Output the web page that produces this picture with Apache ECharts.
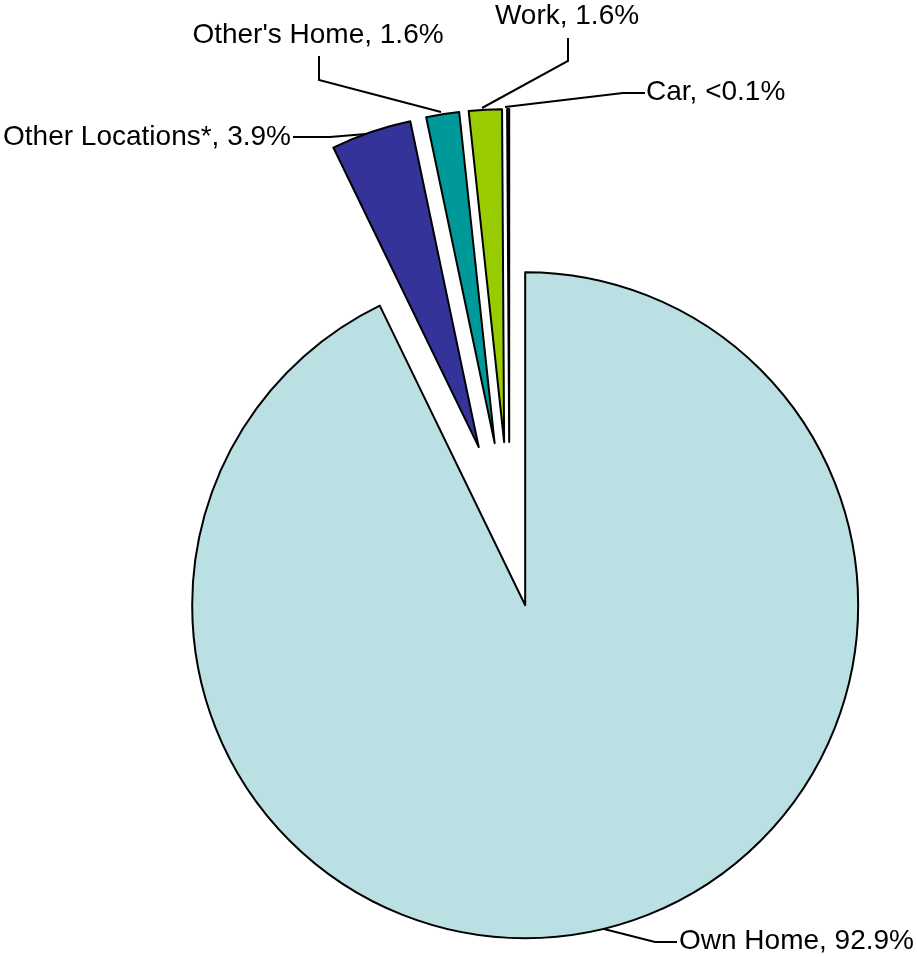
<!DOCTYPE html>
<html>
<head>
<meta charset="utf-8">
<script src="https://cdn.jsdelivr.net/npm/echarts@6/dist/echarts.min.js"></script>
<style>
html,body{margin:0;padding:0;background:#fff;}
#chart{width:917px;height:957px;}
</style>
</head>
<body>
<div id="chart"></div>
<script>
// ---- data ----
var categories = ["Own Home", "Other Locations*", "Other's Home", "Work", "Car"];
var values = [92.9, 3.9, 1.6, 1.6, 0.1];
var valueLabels = ["92.9%", "3.9%", "1.6%", "1.6%", "<0.1%"];
var colors = ["#BAE0E3", "#333399", "#009999", "#99CC00", "#FFFFCC"];
var explodedGroup = [false, true, true, true, true];

// ---- label placement (annotation positions) ----
var labelPos = [
  {x: 679, y: 941, align: 'left',   line: [[600, 928], [655, 942], [677, 942]]},
  {x: 291, y: 137, align: 'right',  line: [[366, 134], [330, 137], [293, 137]]},
  {x: 318, y: 35,  align: 'center', line: [[441, 112], [319, 80], [319, 56]]},
  {x: 567, y: 16,  align: 'center', line: [[482, 108], [568, 61], [568, 38]]},
  {x: 646, y: 92,  align: 'left',   line: [[505, 107], [623, 93], [645, 93]]}
];

var chart = echarts.init(document.getElementById('chart'), null, {renderer: 'canvas'});

function buildData(showExploded) {
  return categories.map(function (name, i) {
    var visible = explodedGroup[i] === showExploded;
    return {
      name: name,
      value: values[i],
      selected: visible,
      itemStyle: visible
        ? {color: colors[i], borderColor: '#000', borderWidth: 2}
        : {color: 'rgba(0,0,0,0)', borderWidth: 0}
    };
  });
}

function makeSeries(showExploded, offset) {
  return {
    type: 'pie',
    center: [509.5, 537],
    radius: 333,
    startAngle: 90,
    clockwise: true,
    selectedMode: 'multiple',
    selectedOffset: offset,
    avoidLabelOverlap: false,
    silent: true,
    animation: false,
    emphasis: {disabled: true},
    label: {show: false},
    labelLine: {show: false},
    data: buildData(showExploded)
  };
}

var graphics = [];
categories.forEach(function (name, i) {
  var lp = labelPos[i];
  graphics.push({
    type: 'polyline',
    silent: true,
    shape: {points: lp.line},
    style: {stroke: '#000', lineWidth: 2, fill: null}
  });
  graphics.push({
    type: 'text',
    silent: true,
    x: lp.x,
    y: lp.y,
    style: {
      text: name + ', ' + valueLabels[i],
      fill: '#000',
      font: '28px "Liberation Sans", Arial, sans-serif',
      align: lp.align,
      verticalAlign: 'middle'
    }
  });
});

chart.setOption({
  backgroundColor: '#fff',
  animation: false,
  series: [
    makeSeries(false, 70),
    makeSeries(true, 95)
  ],
  graphic: {elements: graphics}
});
</script>
</body>
</html>
